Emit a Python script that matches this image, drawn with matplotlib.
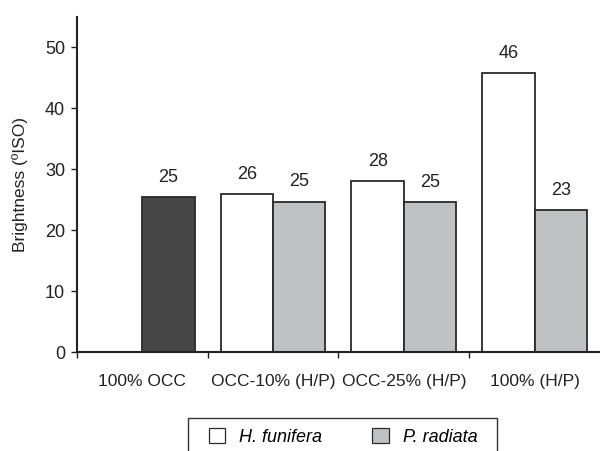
import numpy as np
import matplotlib
matplotlib.use('Agg')
import matplotlib.pyplot as plt
from matplotlib.patches import Patch, Rectangle

plt.rcParams['font.family'] = ['Liberation Sans Narrow', 'Liberation Sans', 'DejaVu Sans']

# Datos
categorias = ['100% OCC', 'OCC-10% (H/P)', 'OCC-25% (H/P)', '100% (H/P)']
occ = [25.4, np.nan, np.nan, np.nan]
h_funifera = [np.nan, 26.0, 28.1, 45.8]
p_radiata = [np.nan, 24.7, 24.6, 23.3]

x = np.arange(len(categorias))
w = 0.4
borde = '#2a2a2a'
texto = '#222222'

fig = plt.figure(figsize=(6, 4.51), dpi=100)
ax = fig.add_axes([0.128, 0.2195, 0.872, 0.7427])

ax.bar(x + w/2, occ, w, color='#474747', edgecolor=borde, linewidth=1.3)
ax.bar(x - w/2, h_funifera, w, color='white', edgecolor=borde, linewidth=1.3)
ax.bar(x + w/2, p_radiata, w, color='#c0c1c3', edgecolor=borde, linewidth=1.3)

# Etiquetas de valores sobre las barras
for serie, pos in [(occ, x + w/2), (h_funifera, x - w/2), (p_radiata, x + w/2)]:
    for xi, v in zip(pos, serie):
        if not np.isnan(v):
            ax.annotate(f'{v:.0f}', (xi, v), xytext=(0, 8), textcoords='offset points',
                        ha='center', va='bottom', fontsize=13, color=texto)

ax.set_xlim(-0.5, 3.5)
ax.set_ylim(0, 55)
ax.set_yticks([0, 10, 20, 30, 40, 50])
ax.set_xticks([-0.5, 0.5, 1.5, 2.5])
ax.set_xticklabels([])
ax.set_xticks(x, minor=True)
ax.set_xticklabels(categorias, minor=True)
ax.tick_params(axis='x', which='minor', length=0, pad=16, labelsize=12.5, colors=texto)
ax.tick_params(axis='x', which='major', length=4, width=1, color=texto)
ax.tick_params(axis='y', length=4, width=1, labelsize=13, colors=texto, pad=4.5)

for s in ['top', 'right']:
    ax.spines[s].set_visible(False)
for s in ['left', 'bottom']:
    ax.spines[s].set_linewidth(1.5)
    ax.spines[s].set_color(texto)

ax.set_ylabel('Brightness (ºISO)', fontsize=12.5, color=texto, labelpad=12)

# Leyenda debajo del grafico
handles = [Patch(facecolor='white', edgecolor=borde, linewidth=0.9),
           Patch(facecolor='#c0c1c3', edgecolor=borde, linewidth=0.9)]
fig.legend(handles, ['H. funifera', 'P. radiata'], loc='center',
           bbox_to_anchor=(343/600, 1 - 437/451), ncol=2, frameon=False,
           prop={'style': 'italic', 'size': 13}, handlelength=0.9,
           handleheight=0.85, columnspacing=2.8, handletextpad=0.78)
fig.patches.append(Rectangle((188/600, -0.05), 309/600, 0.05 + 1 - 418/451,
                             transform=fig.transFigure, fill=False,
                             edgecolor='#333333', linewidth=1.0))

fig.savefig('out.png', dpi=100)
